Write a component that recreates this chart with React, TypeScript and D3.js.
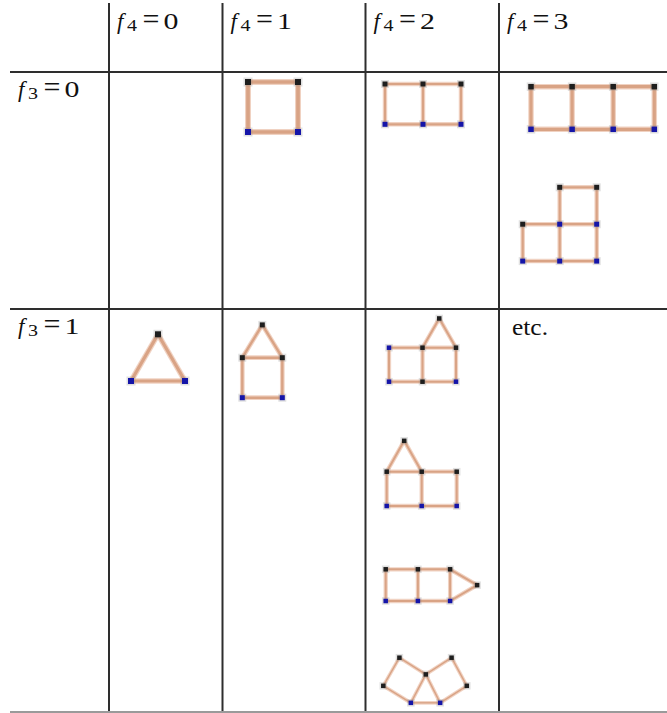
import React, { useEffect, useRef } from 'react'
import * as d3 from 'd3'

// table structure
const f4Values = [0, 1, 2, 3]
const f3Values = [0, 1]
const etcText = 'etc.'

// graphs in lattice units: [x, y, colour] ; k = black node, b = blue node
type Node = [number, number, 'k' | 'b']
type Graph = { nodes: Node[]; edges: [number, number][] }

const square: Graph = {
  nodes: [[0, 0, 'k'], [1, 0, 'k'], [0, 1, 'b'], [1, 1, 'b']],
  edges: [[0, 1], [0, 2], [1, 3], [2, 3]],
}
const ladder2: Graph = {
  nodes: [[0, 0, 'k'], [1, 0, 'k'], [2, 0, 'k'], [0, 1, 'b'], [1, 1, 'b'], [2, 1, 'b']],
  edges: [[0, 1], [1, 2], [3, 4], [4, 5], [0, 3], [1, 4], [2, 5]],
}
const ladder3: Graph = {
  nodes: [[0, 0, 'k'], [1, 0, 'k'], [2, 0, 'k'], [3, 0, 'k'], [0, 1, 'b'], [1, 1, 'b'], [2, 1, 'b'], [3, 1, 'b']],
  edges: [[0, 1], [1, 2], [2, 3], [4, 5], [5, 6], [6, 7], [0, 4], [1, 5], [2, 6], [3, 7]],
}
const lShape: Graph = {
  nodes: [[1, 0, 'k'], [2, 0, 'k'], [0, 1, 'k'], [1, 1, 'b'], [2, 1, 'b'], [0, 2, 'b'], [1, 2, 'b'], [2, 2, 'b']],
  edges: [[0, 1], [0, 3], [1, 4], [2, 3], [3, 4], [2, 5], [3, 6], [4, 7], [5, 6], [6, 7]],
}
const triangle: Graph = {
  nodes: [[0.5, 0, 'k'], [0, 1, 'b'], [1, 1, 'b']],
  edges: [[0, 1], [0, 2], [1, 2]],
}
const house1: Graph = {
  nodes: [[0.5, -0.82, 'k'], [0, 0, 'k'], [1, 0, 'k'], [0, 1, 'b'], [1, 1, 'b']],
  edges: [[0, 1], [0, 2], [1, 2], [1, 3], [2, 4], [3, 4]],
}
const houseRight: Graph = {
  nodes: [[1.5, -0.86, 'k'], [0, 0, 'b'], [1, 0, 'k'], [2, 0, 'k'], [0, 1, 'b'], [1, 1, 'k'], [2, 1, 'b']],
  edges: [[0, 2], [0, 3], [1, 2], [2, 3], [4, 5], [5, 6], [1, 4], [2, 5], [3, 6]],
}
const houseLeft: Graph = {
  nodes: [[0.5, -0.9, 'k'], [0, 0, 'k'], [1, 0, 'k'], [2, 0, 'k'], [0, 1, 'b'], [1, 1, 'b'], [2, 1, 'b']],
  edges: [[0, 1], [0, 2], [1, 2], [2, 3], [4, 5], [5, 6], [1, 4], [2, 5], [3, 6]],
}
const arrowLadder: Graph = {
  nodes: [[0, 0, 'k'], [1, 0, 'k'], [2, 0, 'k'], [0, 1, 'b'], [1, 1, 'b'], [2, 1, 'b'], [2.84, 0.5, 'k']],
  edges: [[0, 1], [1, 2], [3, 4], [4, 5], [0, 3], [1, 4], [2, 5], [2, 6], [5, 6]],
}
const butterfly: Graph = {
  nodes: [[0.55, 0, 'k'], [2.33, 0, 'k'], [1.45, 0.57, 'k'], [0, 0.96, 'k'], [2.85, 0.96, 'k'], [0.94, 1.54, 'b'], [1.94, 1.54, 'b']],
  edges: [[0, 2], [0, 3], [3, 5], [5, 2], [1, 2], [1, 4], [4, 6], [6, 2], [5, 6]],
}

// layout
const W = 667
const H = 713
const colLines = [109, 222.5, 365.5, 499]
const rowLines = [72, 309]
const f3Baselines = [97, 334]

// where each graph sits: origin, unit size, edge width, node size
const placements = [
  { g: square, x0: 248, y0: 82, ux: 50, uy: 50, w: 4.5, r: 6 },
  { g: ladder2, x0: 385, y0: 84, ux: 38, uy: 40.3, w: 3, r: 5 },
  { g: ladder3, x0: 531, y0: 86.7, ux: 41.1, uy: 42.6, w: 4, r: 5.5 },
  { g: lShape, x0: 522.7, y0: 187.3, ux: 37, uy: 36.9, w: 3, r: 5 },
  { g: triangle, x0: 131, y0: 334.3, ux: 54, uy: 46.7, w: 4, r: 6 },
  { g: house1, x0: 242.3, y0: 357.7, ux: 40, uy: 40, w: 3.2, r: 5 },
  { g: houseRight, x0: 389, y0: 347.7, ux: 33.5, uy: 34, w: 2.8, r: 4.5 },
  { g: houseLeft, x0: 386.7, y0: 471.7, ux: 35, uy: 34.3, w: 2.8, r: 4.5 },
  { g: arrowLadder, x0: 385.7, y0: 569.3, ux: 32.2, uy: 31.7, w: 2.8, r: 4.5 },
  { g: butterfly, x0: 383.3, y0: 657.7, ux: 29.3, uy: 29.3, w: 2.2, r: 4.5 },
]

const nodeColor = { k: '#1e1e1e', b: '#1515a8' }
const FONT = "'Liberation Serif', 'Times New Roman', Times, serif"

export default function App() {
  const ref = useRef<SVGSVGElement>(null)

  useEffect(() => {
    const svg = d3.select(ref.current)
    svg.selectAll('*').remove()

    svg.append('rect').attr('width', W).attr('height', H).attr('fill', '#fff')

    // grid
    const grid = svg.append('g').attr('stroke', '#2e2e2e').attr('stroke-width', 2)
    colLines.forEach(x => {
      grid.append('line').attr('x1', x).attr('x2', x).attr('y1', 3).attr('y2', H)
    })
    rowLines.forEach(y => {
      grid.append('line').attr('x1', 10).attr('x2', W).attr('y1', y).attr('y2', y)
    })
    svg.append('line').attr('x1', 10).attr('x2', W).attr('y1', 712).attr('y2', 712)
      .attr('stroke', '#9a9a9a').attr('stroke-width', 2)

    // "f_k = v" labels; the source font is wider than Times, so stretch a little
    const label = (x: number, y: number, sub: string, val: number) => {
      const g = svg.append('g').style('font-family', FONT).attr('fill', '#111')
      g.append('text').attr('x', x).attr('y', y).style('font-size', '23px')
        .style('font-style', 'italic').text('f')
      g.append('text').attr('transform', `translate(${x + 10},${y + 2}) scale(1.25,1)`)
        .style('font-size', '16px').text(sub)
      g.append('text').attr('x', x + 34).attr('y', y).style('font-size', '30px')
        .attr('text-anchor', 'middle').text('=')
      g.append('text').attr('transform', `translate(${x + 46.5},${y}) scale(1.3,1)`)
        .style('font-size', '23px').text(String(val))
    }

    f4Values.forEach((v, i) => label(colLines[i] + 8, 29, '4', v))
    f3Values.forEach((v, i) => label(18, f3Baselines[i], '3', v))

    svg.append('text').attr('x', 512).attr('y', 335)
      .style('font-family', FONT).style('font-size', '23px').attr('fill', '#111')
      .attr('textLength', 36).attr('lengthAdjust', 'spacingAndGlyphs')
      .text(etcText)

    // graphs
    placements.forEach(p => {
      const x = d3.scaleLinear().domain([0, 1]).range([p.x0, p.x0 + p.ux])
      const y = d3.scaleLinear().domain([0, 1]).range([p.y0, p.y0 + p.uy])
      const g = svg.append('g')
      const edges = p.g.edges.map(([a, b]) => [p.g.nodes[a], p.g.nodes[b]])
      g.selectAll('line.halo').data(edges).join('line')
        .attr('class', 'halo')
        .attr('x1', d => x(d[0][0])).attr('y1', d => y(d[0][1]))
        .attr('x2', d => x(d[1][0])).attr('y2', d => y(d[1][1]))
        .attr('stroke', '#f0d2c2').attr('stroke-width', p.w + 1.5)
      g.selectAll('line.edge').data(edges).join('line')
        .attr('class', 'edge')
        .attr('x1', d => x(d[0][0])).attr('y1', d => y(d[0][1]))
        .attr('x2', d => x(d[1][0])).attr('y2', d => y(d[1][1]))
        .attr('stroke', '#d9a385').attr('stroke-width', p.w - 0.8)
      g.selectAll('rect.nh').data(p.g.nodes).join('rect')
        .attr('class', 'nh')
        .attr('x', d => x(d[0]) - p.r / 2 - 1.5).attr('y', d => y(d[1]) - p.r / 2 - 1.5)
        .attr('width', p.r + 3).attr('height', p.r + 3)
        .attr('fill', '#888').attr('opacity', 0.25)
      g.selectAll('rect.node').data(p.g.nodes).join('rect')
        .attr('class', 'node')
        .attr('x', d => x(d[0]) - p.r / 2).attr('y', d => y(d[1]) - p.r / 2)
        .attr('width', p.r).attr('height', p.r)
        .attr('fill', d => nodeColor[d[2]])
    })
  }, [])

  return (
    <svg ref={ref} width={W} height={H}
      style={{ position: 'absolute', left: 0, top: 0, display: 'block' }} />
  )
}
